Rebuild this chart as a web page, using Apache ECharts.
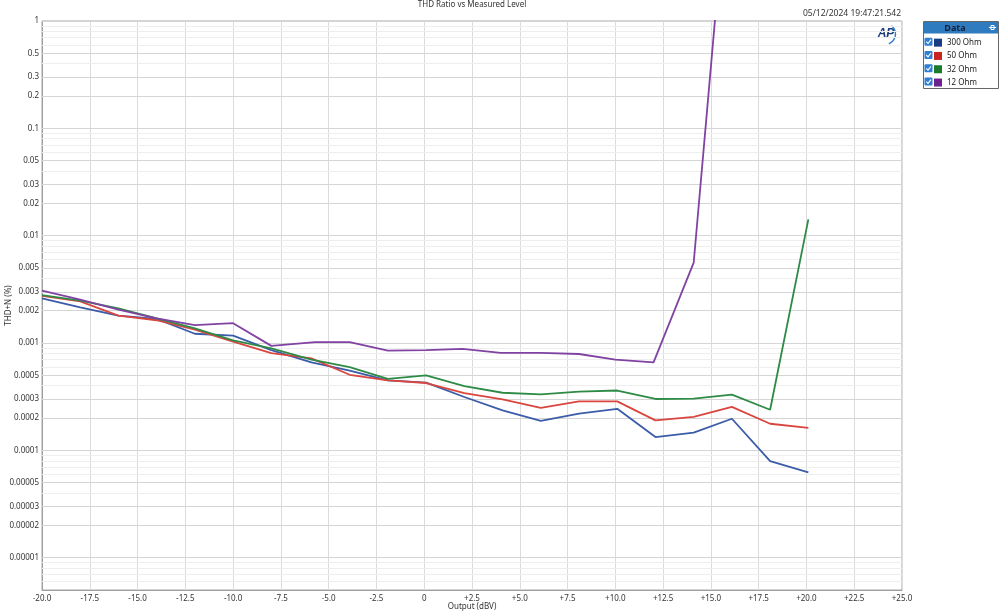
<!DOCTYPE html>
<html><head><meta charset="utf-8">
<script src="https://cdn.jsdelivr.net/npm/echarts@6/dist/echarts.min.js"></script>
<style>html,body{margin:0;padding:0;background:#fff}#c{width:1000px;height:612px}</style>
</head><body><div id="c"></div>
<script>
// ---------- data ----------
const seriesNames = ['300 Ohm', '50 Ohm', '32 Ohm', '12 Ohm'];
const x300 = [-20,-18,-16,-14,-12,-10,-8,-5.9,-3.9,-1.9,0.1,2.1,4.1,6.1,8.1,10.1,12.1,14.1,16.1,18.1,20.1];
const y300 = [0.0026,0.00215,0.0018,0.00168,0.00122,0.00117,0.00086,0.00066,0.000554,0.000448,0.000427,0.000314,0.000236,0.000188,0.00022,0.000244,0.000133,0.000146,0.000197,0.0000792,0.0000622];
const x50 = [-20,-18,-16,-14,-12,-10,-8,-5.9,-3.9,-1.9,0.1,2.1,4.1,6.1,8.1,10.1,12.1,14.1,16.1,18.1,20.1];
const y50 = [0.00275,0.00244,0.0018,0.00163,0.00133,0.00103,0.000804,0.00072,0.000506,0.000448,0.000424,0.000342,0.000298,0.000249,0.000286,0.000286,0.00019,0.000205,0.000254,0.000177,0.000162];
const x32 = [-20,-18,-16,-14,-12,-10,-8,-5.9,-3.9,-1.9,0.1,2.1,4.1,6.1,8.1,10.1,12.1,14.1,16.1,18.1,20.1];
const y32 = [0.0028,0.00248,0.0021,0.0017,0.00137,0.00106,0.00089,0.000701,0.000596,0.000464,0.0005,0.000397,0.000344,0.000332,0.000352,0.000361,0.000301,0.000303,0.00033,0.000239,0.0142];
const x12 = [-20,-18,-16,-14,-12,-10,-8,-5.7,-3.9,-1.9,0.1,2.0,4.0,6.1,8.1,10.0,12.0,14.1,16.0];
const y12 = [0.00307,0.00253,0.00205,0.0017,0.00147,0.00153,0.00094,0.00102,0.00102,0.00085,0.00086,0.00088,0.00081,0.00081,0.00079,0.0007,0.00066,0.0056,40];

const yMajorTicks = [1,0.5,0.3,0.2,0.1,0.05,0.03,0.02,0.01,0.005,0.003,0.002,0.001,0.0005,0.0003,0.0002,0.0001,0.00005,0.00003,0.00002,0.00001];
const yMajorLabels = ['1','0.5','0.3','0.2','0.1','0.05','0.03','0.02','0.01','0.005','0.003','0.002','0.001','0.0005','0.0003','0.0002','0.0001','0.00005','0.00003','0.00002','0.00001'];
const yMinorMultipliers = [4,6,7,8,9];
const yDecades = [0.1,0.01,0.001,0.0001,0.00001,0.000001];
const xMin = -20, xMax = 25, xStep = 2.5;
const yMin = 0.000005, yMax = 1;

const lineColors = ['#3b5ca8', '#d9463f', '#2e8b45', '#8042a3'];
const swatchColors = ['#1a3c85', '#c9241f', '#1b7a2c', '#6c2390'];

// ---------- build ----------
const xs = [x300, x50, x32, x12];
const ys = [y300, y50, y32, y12];
const FONT = 'Noto Sans';

const gridLines = [];
yDecades.forEach(d => {
  yMinorMultipliers.forEach(m => {
    const v = +(m * d).toPrecision(3);
    if (v >= yMin && v < yMax) gridLines.push({ yAxis: v, lineStyle: { color: '#eeeeee', width: 1, type: 'solid' }, label: { show: false } });
  });
});
yMajorTicks.forEach((v, i) => {
  gridLines.push({
    yAxis: v,
    lineStyle: { color: '#d5d5d5', width: 1, type: 'solid' },
    label: { show: true, position: 'start', distance: 3, formatter: () => yMajorLabels[i], color: '#333', fontSize: 8, fontFamily: FONT }
  });
});

const series = [{
  type: 'line', name: '__grid', data: [], silent: true, z: 1, animation: false,
  markLine: { silent: true, z: 1, precision: 12, symbol: ['none', 'none'], animation: false, data: gridLines, emphasis: { disabled: true } }
}];
seriesNames.forEach((n, k) => {
  series.push({
    type: 'line', name: n, z: 3, showSymbol: false, clip: true, animation: false,
    lineStyle: { width: 1.8, color: lineColors[k] }, itemStyle: { color: lineColors[k] },
    data: xs[k].map((x, i) => [x, ys[k][i]])
  });
});

const rowY = [41.7, 55.0, 68.3, 81.6];
const graphics = [
  { type: 'text', x: 472, y: 5, style: { text: 'THD Ratio vs Measured Level', font: '8px ' + FONT, fill: '#333', align: 'center', verticalAlign: 'middle' } },
  { type: 'text', x: 901, y: 14, style: { text: '05/12/2024 19:47:21.542', font: '8.5px ' + FONT, fill: '#333', align: 'right', verticalAlign: 'middle' } },
  { type: 'text', x: 886, y: 34, style: { text: 'AP', font: 'italic bold 12px Liberation Sans', fill: '#1d3f7d', align: 'center', verticalAlign: 'middle' } },
  { type: 'arc', shape: { cx: 885, cy: 34, r: 10.5, startAngle: -0.9, endAngle: 1.2 }, style: { stroke: '#2c7fd0', lineWidth: 1.3, fill: null } },
  { type: 'rect', shape: { x: 923.5, y: 21.5, width: 75, height: 67 }, style: { fill: '#fff', stroke: '#666', lineWidth: 1 } },
  { type: 'rect', shape: { x: 924, y: 22, width: 74, height: 11.5 }, style: { fill: '#2f7bbf' } },
  { type: 'text', x: 955, y: 28, style: { text: 'Data', font: 'bold 9px ' + FONT, fill: '#14213d', align: 'center', verticalAlign: 'middle' } },
  { type: 'line', shape: { x1: 989, y1: 27.5, x2: 996, y2: 27.5 }, style: { stroke: '#fff', lineWidth: 1 } },
  { type: 'rect', shape: { x: 991, y: 25.5, width: 3, height: 4 }, style: { fill: null, stroke: '#fff', lineWidth: 1 } }
];
rowY.forEach(cy => {
  graphics.push({ type: 'rect', shape: { x: 924.5, y: cy - 4, width: 8, height: 8, r: 1 }, style: { fill: '#2f7fd4' } });
  graphics.push({ type: 'polyline', shape: { points: [[926.3, cy], [928, cy + 1.8], [931, cy - 2]] }, style: { stroke: '#fff', lineWidth: 1.1, fill: null } });
});

const option = {
  backgroundColor: '#fff',
  animation: false,
  grid: { left: 42, right: 98, top: 21, bottom: 22, show: true, borderColor: '#a6a6a6', borderWidth: 1, backgroundColor: 'transparent', containLabel: false, outerBoundsMode: 'none' },
  xAxis: {
    type: 'value', min: xMin, max: xMax, interval: xStep,
    name: 'Output (dBV)', nameLocation: 'middle', nameGap: 12.5, nameMoveOverlap: false,
    nameTextStyle: { fontSize: 8, color: '#333', fontFamily: FONT },
    axisLine: { show: true, onZero: false, lineStyle: { color: '#a0a0a0' } },
    axisTick: { show: false },
    axisLabel: { show: true, margin: 5, fontSize: 8, color: '#333', fontFamily: FONT, showMinLabel: true, showMaxLabel: true,
      formatter: v => v === 0 ? '0' : (v > 0 ? '+' : '') + v.toFixed(1) },
    splitLine: { show: true, lineStyle: { color: '#dcdcdc', width: 1 } }
  },
  yAxis: {
    type: 'log', logBase: 10, min: yMin, max: yMax,
    name: 'THD+N (%)', nameLocation: 'middle', nameGap: 29, nameMoveOverlap: false,
    nameTextStyle: { fontSize: 8, color: '#333', fontFamily: FONT },
    axisLine: { show: true, onZero: false, lineStyle: { color: '#a0a0a0' } },
    axisTick: { show: false }, axisLabel: { show: false }, splitLine: { show: false }
  },
  legend: {
    orient: 'vertical', left: 934, top: 37, padding: 0, itemWidth: 8, itemHeight: 8, itemGap: 2, icon: 'rect',
    selectedMode: false,
    textStyle: { fontSize: 8, color: '#222', fontFamily: FONT, lineHeight: 11.3 },
    data: seriesNames.map((n, k) => ({ name: n, itemStyle: { color: swatchColors[k] } }))
  },
  series: series,
  graphic: graphics
};
const chart = echarts.init(document.getElementById('c'), null, { renderer: 'canvas' });
chart.setOption(option);
</script>
</body></html>
